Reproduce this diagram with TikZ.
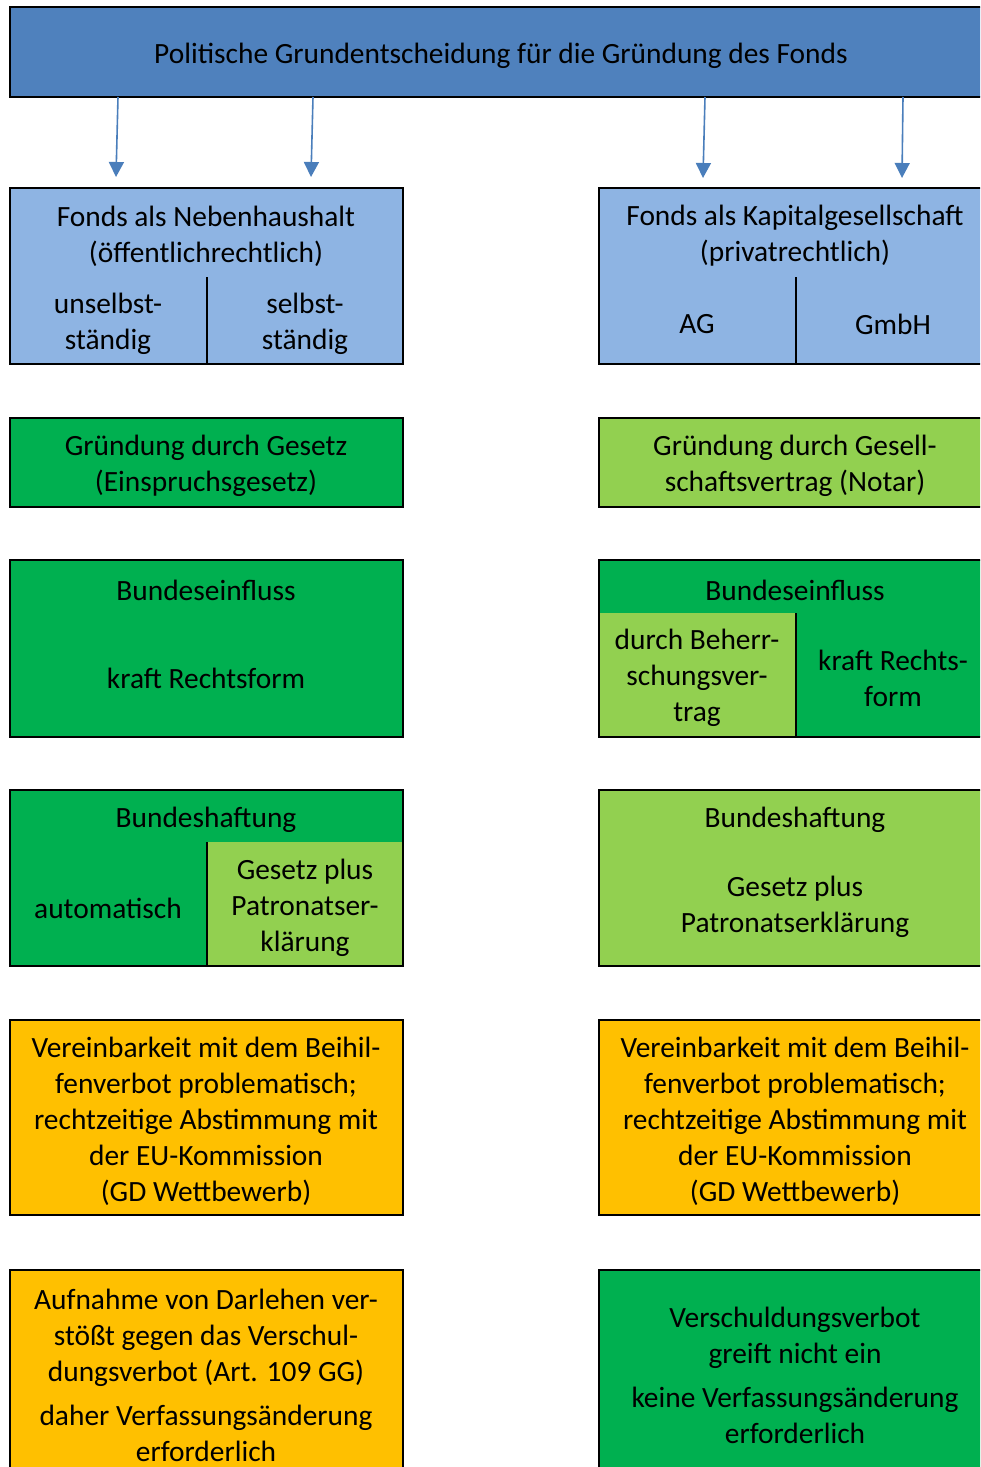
\documentclass[tikz,border=0pt]{standalone}
\usepackage{fontspec}
\setmainfont{Carlito}
\usetikzlibrary{arrows.meta}

\definecolor{kopfblau}{HTML}{4F81BD}
\definecolor{hellblau}{HTML}{8EB4E3}
\definecolor{pfeilblau}{HTML}{4A7EBB}
\definecolor{gruen}{HTML}{00B050}
\definecolor{hellgruen}{HTML}{92D050}
\definecolor{orange}{HTML}{FFC000}

\tikzset{
  kasten/.style={draw=black,line width=1pt},
  trenn/.style={draw=black,line width=1pt},
  txt/.style={align=center,inner sep=0pt,yshift=-1pt,font=\fontsize{14.7}{18}\selectfont},
  pfeil/.style={draw=pfeilblau,line width=0.8pt,-{Triangle[width=7.5pt,length=7.5pt]}}
}

\begin{document}
\begin{tikzpicture}[x=0.5pt,y=-0.5pt]
\useasboundingbox (0,0) rectangle (980,1467);
\clip (0,0) rectangle (980,1467);

% Kopf
\draw[kasten,fill=kopfblau] (10,7) rectangle (995,97);
\node[txt] (kopf) at (501,54) {Politische Grundentscheidung für die Gründung des Fonds};

\coordinate (a1) at (118,97);  \coordinate (e1) at (116,177);
\coordinate (a2) at (313,97);  \coordinate (e2) at (311,177);
\coordinate (a3) at (705,97);  \coordinate (e3) at (703,178);
\coordinate (a4) at (903,97);  \coordinate (e4) at (902,178);
\foreach \i in {1,...,4}
  \draw[pfeil] (a\i) -- (e\i);

% Rechtsform
\draw[kasten,fill=hellblau] (10,188) rectangle (403,364);
\draw[trenn] (207,277) -- (207,364);
\node[txt] (nebenhh) at (206,234) {Fonds als Nebenhaushalt\\(öffentlichrechtlich)};
\node[txt] (unselbst) at (108,322) {unselbst-\\ständig};
\node[txt] (selbst) at (305,322) {selbst-\\ständig};

\draw[kasten,fill=hellblau] (599,188) rectangle (995,364);
\draw[trenn] (796,277) -- (796,364);
\node[txt] (kapges) at (795,234) {Fonds als Kapitalgesellschaft\\(privatrechtlich)};
\node[txt] (ag) at (697,322) {AG};
\node[txt] (gmbh) at (893,322) {GmbH};

% Gruendung
\draw[kasten,fill=gruen] (10,418) rectangle (403,507);
\node[txt] (gesetz) at (206,464) {Gründung durch Gesetz\\(Einspruchsgesetz)};
\draw[kasten,fill=hellgruen] (599,418) rectangle (995,507);
\node[txt] (vertrag) at (795,464) {Gründung durch Gesell-\\schaftsvertrag (Notar)};

% Bundeseinfluss
\draw[kasten,fill=gruen] (10,560) rectangle (403,737);
\node[txt] (einflL) at (206,588) {Bundeseinfluss};
\node[txt] (rechtsformL) at (206,676) {kraft Rechtsform};

\fill[gruen] (599,560) rectangle (995,737);
\fill[hellgruen] (599,613) rectangle (796,737);
\draw[kasten] (599,560) rectangle (995,737);
\draw[trenn] (796,613) -- (796,737);
\node[txt] (einflR) at (795,588) {Bundeseinfluss};
\node[txt] (beherr) at (697,676) {durch Beherr-\\schungsver-\\trag};
\node[txt] (rechtsformR) at (893,676) {kraft Rechts-\\form};

% Bundeshaftung
\fill[gruen] (10,790) rectangle (403,966);
\fill[hellgruen] (207,842) rectangle (403,966);
\draw[kasten] (10,790) rectangle (403,966);
\draw[trenn] (207,842) -- (207,966);
\node[txt] (haftL) at (206,818) {Bundeshaftung};
\node[txt] (auto) at (108,906) {automatisch};
\node[txt] (patronL) at (305,906) {Gesetz plus\\Patronatser-\\klärung};

\draw[kasten,fill=hellgruen] (599,790) rectangle (995,966);
\node[txt] (haftR) at (795,818) {Bundeshaftung};
\node[txt] (patronR) at (795,905) {Gesetz plus\\Patronatserklärung};

% Beihilfe
\draw[kasten,fill=orange] (10,1020) rectangle (403,1215);
\node[txt] (beihilfeL) at (206,1119) {Vereinbarkeit mit dem Beihil-\\fenverbot problematisch;\\rechtzeitige Abstimmung mit\\der EU-Kommission\\(GD Wettbewerb)};
\draw[kasten,fill=orange] (599,1020) rectangle (995,1215);
\node[txt] (beihilfeR) at (795,1119) {Vereinbarkeit mit dem Beihil-\\fenverbot problematisch;\\rechtzeitige Abstimmung mit\\der EU-Kommission\\(GD Wettbewerb)};

% Verschuldung
\draw[kasten,fill=orange] (10,1270) rectangle (403,1490);
\node[txt] (verschL) at (206,1373) {Aufnahme von Darlehen ver-\\stößt gegen das Verschul-\\dungsverbot (Art. 109 GG)\\[4pt]daher Verfassungsänderung\\erforderlich};
\draw[kasten,fill=gruen] (599,1270) rectangle (995,1490);
\node[txt] (verschR) at (795,1373) {Verschuldungsverbot\\greift nicht ein\\[4pt]keine Verfassungsänderung\\erforderlich};

\end{tikzpicture}
\end{document}
